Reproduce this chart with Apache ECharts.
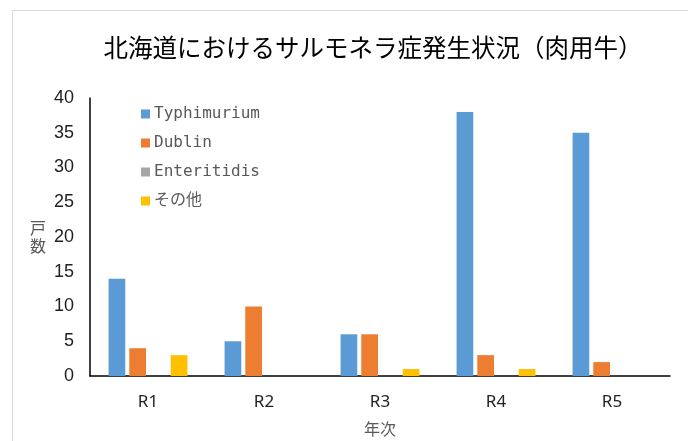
<!DOCTYPE html>
<html>
<head>
<meta charset="utf-8">
<script src="https://cdn.jsdelivr.net/npm/echarts@6/dist/echarts.min.js"></script>
<style>
html,body{margin:0;padding:0;background:#fff;}
#c{width:688px;height:441px;}
</style>
</head>
<body>
<div id="c"></div>
<script>
const categories = ['R1', 'R2', 'R3', 'R4', 'R5'];
const typhimurium = [14, 5, 6, 38, 35];
const dublin = [4, 10, 6, 3, 2];
const enteritidis = [0, 0, 0, 0, 0];
const others = [3, 0, 1, 1, 0];
const seriesNames = ['Typhimurium', 'Dublin', 'Enteritidis', 'その他'];
const colors = ['#5B9BD5', '#ED7D31', '#A5A5A5', '#FFC000'];
const yTicks = { min: 0, max: 40, interval: 5 };

const chart = echarts.init(document.getElementById('c'));
const allData = [typhimurium, dublin, enteritidis, others];
chart.setOption({
  animation: false,
  color: colors,
  graphic: [{
    type: 'rect',
    shape: { x: 12.5, y: 10.5, width: 700, height: 460 },
    style: { fill: 'none', stroke: '#d9d9d9', lineWidth: 1 },
    silent: true
  }],
  title: {
    text: '北海道におけるサルモネラ症発生状況（肉用牛）',
    left: 368, top: 30, textAlign: 'center',
    textStyle: { fontFamily: 'Noto Sans CJK JP', fontSize: 24.5, fontWeight: 'normal', color: '#000' }
  },
  legend: {
    orient: 'vertical',
    left: 141, top: 106,
    padding: 0,
    itemWidth: 9, itemHeight: 9, itemGap: 13,
    icon: 'rect',
    textStyle: { fontFamily: 'DejaVu Sans Mono, Noto Sans CJK JP', fontSize: 16, color: '#595959', lineHeight: 16, padding: [0, 0, 0, -1] },
    data: seriesNames
  },
  grid: { left: 90, right: 18, top: 98, bottom: 65, outerBoundsMode: 'none', containLabel: false },
  xAxis: {
    type: 'category',
    data: categories,
    name: '年次',
    nameLocation: 'middle',
    nameGap: 45,
    nameTextStyle: { fontFamily: 'Noto Sans CJK JP', fontSize: 16, color: '#595959' },
    axisLine: { lineStyle: { color: '#000', width: 1.5 } },
    axisTick: { show: false },
    axisLabel: { margin: 18, fontFamily: 'Noto Sans', fontSize: 17, color: '#222' }
  },
  yAxis: {
    type: 'value',
    min: yTicks.min, max: yTicks.max, interval: yTicks.interval,
    name: '戸\n数',
    nameLocation: 'middle',
    nameRotate: 0,
    nameGap: 44,
    nameTextStyle: { fontFamily: 'Noto Sans CJK JP', fontSize: 16, color: '#595959', lineHeight: 18 },
    axisLine: { show: true, lineStyle: { color: '#000', width: 1.5 } },
    axisTick: { show: false },
    splitLine: { show: false },
    axisLabel: { margin: 16, fontFamily: 'Liberation Sans Narrow, Liberation Sans', fontSize: 18, color: '#222' }
  },
  series: seriesNames.map((n, i) => ({
    name: n,
    type: 'bar',
    data: allData[i],
    barGap: '24%',
    barCategoryGap: '32%',
    itemStyle: { color: colors[i] }
  }))
});
</script>
</body>
</html>
